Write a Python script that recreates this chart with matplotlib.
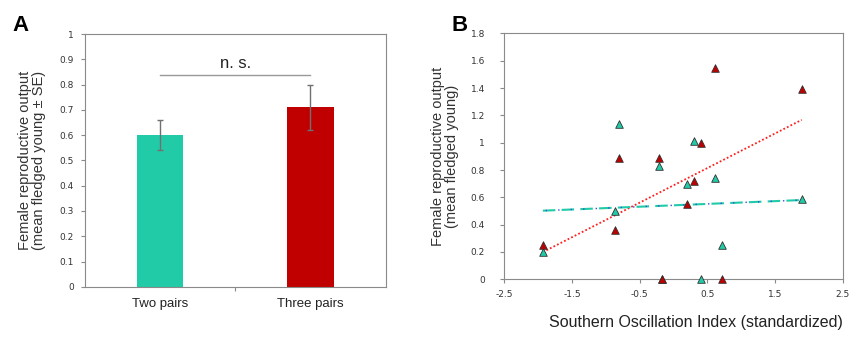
import numpy as np
import matplotlib.pyplot as plt

plt.rcParams['font.family'] = ['Liberation Sans', 'DejaVu Sans']

# Panel A data
groups = ['Two pairs', 'Three pairs']
means = [0.60, 0.71]
ses = [0.06, 0.09]
bar_colors = ['#22CBA7', '#C00000']

# Panel B data (same SOI values for both groups)
soi = [-1.93, -0.86, -0.81, -0.22, -0.175, 0.195, 0.31, 0.41, 0.62, 0.71, 1.894]
young_three = [0.25, 0.36, 0.89, 0.89, 0.0, 0.55, 0.72, 1.00, 1.55, 0.0, 1.39]
young_two = [0.20, 0.50, 1.14, 0.83, 0.0, 0.70, 1.01, 0.0, 0.74, 0.25, 0.59]

spine_col = '#8a8a8a'
txt_col = '#333333'
teal = '#22CBA7'
red = '#C00000'

fig = plt.figure(figsize=(8.54, 3.41), dpi=100)

# ---- Panel A ----
axA = fig.add_axes([0.0995, 0.159, 0.352, 0.741])
x = np.arange(len(groups))
axA.bar(x, means, width=0.31, color=bar_colors, zorder=2)
axA.errorbar(x, means, yerr=ses, fmt='none', ecolor='#707070', elinewidth=1.0,
             capsize=2.5, capthick=1.0, zorder=3)
axA.set_xlim(-0.5, 1.5)
axA.set_ylim(0, 1)
axA.set_yticks(np.arange(0, 1.01, 0.1))
axA.set_yticklabels(['0', '0.1', '0.2', '0.3', '0.4', '0.5', '0.6', '0.7', '0.8', '0.9', '1'],
                    family='DejaVu Sans')
axA.set_xticks([0.5])
axA.set_xticklabels([''])
axA.tick_params(axis='y', labelsize=6.5, length=3, color=spine_col, pad=5, labelcolor=txt_col)
axA.tick_params(axis='x', length=3, color=spine_col)
for i, g in enumerate(groups):
    axA.text(i, -0.045, g, ha='center', va='top', fontsize=9.5, color='#222222')
for s in axA.spines.values():
    s.set_color(spine_col)
    s.set_linewidth(0.8)
axA.plot([0, 1], [0.84, 0.84], color='#999999', lw=1.0)
axA.text(0.5, 0.855, 'n. s.', ha='center', va='bottom', fontsize=12, color='#222222')
axA.set_ylabel('Female reproductive output\n(mean fledged young \u00b1 SE)', fontsize=10.5,
               linespacing=1.0, labelpad=10, color=txt_col)
fig.text(0.015, 0.91, 'A', fontsize=16, fontweight='bold')

# ---- Panel B ----
axB = fig.add_axes([0.5905, 0.181, 0.3963, 0.721])
xs = np.array(soi)
xl = np.array([xs.min(), xs.max()])
k3, b3 = np.polyfit(xs, young_three, 1)
k2, b2 = np.polyfit(xs, young_two, 1)
axB.plot(xl, k3 * xl + b3, color='#FF2020', lw=1.3, linestyle=(0, (1, 1.2)), zorder=2)
axB.plot(xl, k2 * xl + b2, color=teal, lw=1.5, linestyle=(0, (6, 3)), zorder=2)
axB.plot(xl, k2 * xl + b2, color='#3050E0', lw=1.0, linestyle=(7, (1, 8)), zorder=2)
axB.scatter(xs, young_two, marker='^', s=30, c=teal, edgecolors='#303030', linewidths=0.6,
            zorder=3, clip_on=False)
axB.scatter(xs, young_three, marker='^', s=30, c=red, edgecolors='#303030', linewidths=0.6,
            zorder=4, clip_on=False)
axB.set_xlim(-2.5, 2.5)
axB.set_ylim(0, 1.8)
axB.set_xticks([-2.5, -1.5, -0.5, 0.5, 1.5, 2.5])
axB.set_xticklabels(['-2.5', '-1.5', '-0.5', '0.5', '1.5', '2.5'], family='DejaVu Sans')
axB.set_yticks(np.arange(0, 1.81, 0.2))
axB.set_yticklabels(['0', '0.2', '0.4', '0.6', '0.8', '1', '1.2', '1.4', '1.6', '1.8'],
                    family='DejaVu Sans')
axB.tick_params(labelsize=6.5, length=3, color=spine_col, labelcolor=txt_col)
axB.tick_params(axis='y', pad=11)
axB.tick_params(axis='x', pad=5)
for s in axB.spines.values():
    s.set_color(spine_col)
    s.set_linewidth(0.8)
axB.set_ylabel('Female reproductive output\n(mean fledged young)', fontsize=10.5,
               linespacing=1.0, labelpad=8, color=txt_col)
fig.text(0.815, 0.04, 'Southern Oscillation Index (standardized)', ha='center', fontsize=11.5,
         color='#222222')
fig.text(0.529, 0.91, 'B', fontsize=16, fontweight='bold')

fig.savefig('out.png', dpi=100)
